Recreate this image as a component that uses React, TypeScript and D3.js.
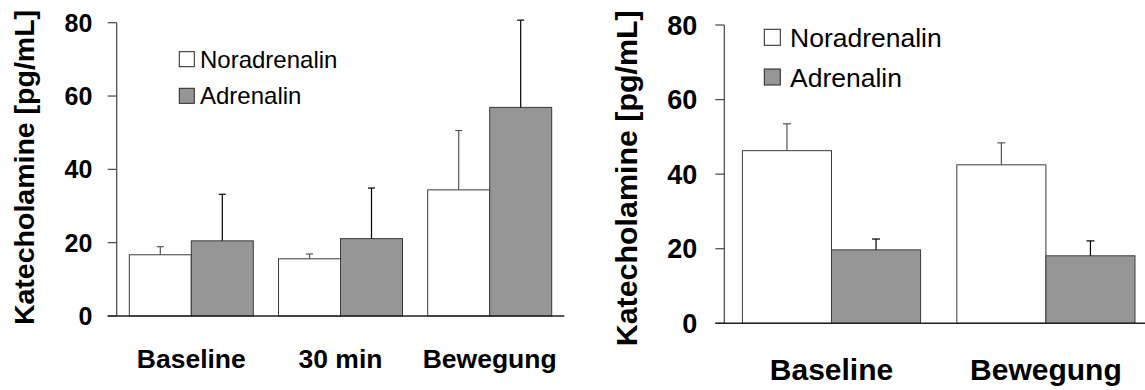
import React, { useEffect, useRef } from "react";
import * as d3 from "d3";

// left panel: three time points
const leftCategories = ["Baseline", "30 min", "Bewegung"];
const leftNoradrenalin = [16.7, 15.6, 34.4];
const leftNoradrenalinSd = [2.2, 1.3, 16.2];
const leftAdrenalin = [20.5, 21.1, 56.9];
const leftAdrenalinSd = [12.7, 13.8, 23.8];

// right panel: two time points
const rightCategories = ["Baseline", "Bewegung"];
const rightNoradrenalin = [46.3, 42.5];
const rightNoradrenalinSd = [7.2, 5.9];
const rightAdrenalin = [19.7, 18.1];
const rightAdrenalinSd = [2.9, 4.0];

const yTicks = [0, 20, 40, 60, 80];
const seriesNames = ["Noradrenalin", "Adrenalin"];
const seriesFills = ["#ffffff", "#969696"];
const errColors = ["#555555", "#000000"];
const yLabel = "Katecholamine [pg/mL]";

const FONT = "'Liberation Sans', Arial, Helvetica, sans-serif";

const leftLayout = {
  axisX: 116.7, y0: 316, yTop: 22.7, bandEnd: 564.3, lineEnd: 564.3,
  tickFont: 25, tickGap: 24.4, catFont: 26.5, catY: 368,
  yLabelX: 34, yLabelY: 167.5, yLabelFont: 28.5,
  legendX: 179.3, legendY: [51.7, 88.3], legendSize: 15, legendFont: 24, legendTextX: 200,
  cap: 7,
};

const rightLayout = {
  axisX: 724.3, y0: 323.3, yTop: 25, bandEnd: 1153.1, lineEnd: 1145,
  tickFont: 27, tickGap: 27, catFont: 30, catY: 380,
  yLabelX: 637, yLabelY: 178.3, yLabelFont: 30.4,
  legendX: 764.3, legendY: [29.3, 69], legendSize: 16, legendFont: 26.5, legendTextX: 790,
  cap: 8,
};

const BarPanel = ({ categories, nor, norSd, adr, adrSd, layout }) => {
  const ref = useRef(null);

  useEffect(() => {
    const L = layout;
    const g = d3.select(ref.current);
    g.selectAll("*").remove();

    const y = d3.scaleLinear().domain([0, 80]).range([L.y0, L.yTop]);
    const x = d3
      .scaleBand()
      .domain(categories)
      .range([L.axisX, L.bandEnd])
      .paddingInner(0.169)
      .paddingOuter(0.0845);
    const xs = d3.scaleBand().domain(seriesNames).range([0, x.bandwidth()]);

    const values = [nor, adr];
    const sds = [norSd, adrSd];

    // bars
    seriesNames.forEach((s, si) => {
      g.selectAll(`rect.bar${si}`)
        .data(categories)
        .enter()
        .append("rect")
        .attr("class", `bar${si}`)
        .attr("x", c => x(c) + xs(s))
        .attr("y", (c, i) => y(values[si][i]))
        .attr("width", xs.bandwidth())
        .attr("height", (c, i) => y(0) - y(values[si][i]))
        .attr("fill", seriesFills[si])
        .attr("stroke", "#3a3a3a")
        .attr("stroke-width", 1);
    });

    // error bars (upper only)
    seriesNames.forEach((s, si) => {
      categories.forEach((c, i) => {
        const cx = x(c) + xs(s) + xs.bandwidth() / 2;
        const top = y(values[si][i] + sds[si][i]);
        g.append("line")
          .attr("x1", cx).attr("x2", cx)
          .attr("y1", y(values[si][i])).attr("y2", top)
          .attr("stroke", errColors[si]).attr("stroke-width", 1.2);
        g.append("line")
          .attr("x1", cx - L.cap / 2).attr("x2", cx + L.cap / 2)
          .attr("y1", top).attr("y2", top)
          .attr("stroke", errColors[si]).attr("stroke-width", 1.2);
      });
    });

    // y axis
    g.append("line")
      .attr("x1", L.axisX).attr("x2", L.axisX)
      .attr("y1", y(0)).attr("y2", y(80))
      .attr("stroke", "#444").attr("stroke-width", 1.2);
    yTicks.forEach(t => {
      g.append("line")
        .attr("x1", L.axisX - 9).attr("x2", L.axisX)
        .attr("y1", y(t)).attr("y2", y(t))
        .attr("stroke", "#444").attr("stroke-width", 1.2);
      g.append("text")
        .attr("x", L.axisX - L.tickGap)
        .attr("y", y(t))
        .attr("dy", "0.36em")
        .attr("text-anchor", "end")
        .style("font-family", FONT)
        .style("font-weight", "bold")
        .style("font-size", `${L.tickFont}px`)
        .text(t);
    });

    // x axis line
    g.append("line")
      .attr("x1", L.axisX - 9).attr("x2", L.lineEnd)
      .attr("y1", y(0)).attr("y2", y(0))
      .attr("stroke", "#222").attr("stroke-width", 1.5);

    // category labels
    g.selectAll("text.cat")
      .data(categories)
      .enter()
      .append("text")
      .attr("class", "cat")
      .attr("x", c => x(c) + x.bandwidth() / 2)
      .attr("y", L.catY)
      .attr("text-anchor", "middle")
      .style("font-family", FONT)
      .style("font-weight", "bold")
      .style("font-size", `${L.catFont}px`)
      .text(c => c);

    // y label
    g.append("text")
      .attr("transform", `translate(${L.yLabelX} ${L.yLabelY}) rotate(-90)`)
      .attr("text-anchor", "middle")
      .style("font-family", FONT)
      .style("font-weight", "bold")
      .style("font-size", `${L.yLabelFont}px`)
      .text(yLabel);

    // legend
    seriesNames.forEach((s, si) => {
      g.append("rect")
        .attr("x", L.legendX)
        .attr("y", L.legendY[si])
        .attr("width", L.legendSize)
        .attr("height", L.legendSize)
        .attr("fill", seriesFills[si])
        .attr("stroke", "#222")
        .attr("stroke-width", 1);
      g.append("text")
        .attr("x", L.legendTextX)
        .attr("y", L.legendY[si] + L.legendSize / 2)
        .attr("dy", "0.36em")
        .style("font-family", FONT)
        .style("font-size", `${L.legendFont}px`)
        .text(s);
    });
  }, [categories, nor, norSd, adr, adrSd, layout]);

  return <g ref={ref} />;
};

const App = () => (
  <svg
    width={1145}
    height={390}
    style={{ position: "absolute", left: 0, top: 0, background: "#fff" }}
  >
    <rect width={1145} height={390} fill="#fff" />
    <BarPanel
      categories={leftCategories}
      nor={leftNoradrenalin}
      norSd={leftNoradrenalinSd}
      adr={leftAdrenalin}
      adrSd={leftAdrenalinSd}
      layout={leftLayout}
    />
    <BarPanel
      categories={rightCategories}
      nor={rightNoradrenalin}
      norSd={rightNoradrenalinSd}
      adr={rightAdrenalin}
      adrSd={rightAdrenalinSd}
      layout={rightLayout}
    />
  </svg>
);

export default App;
